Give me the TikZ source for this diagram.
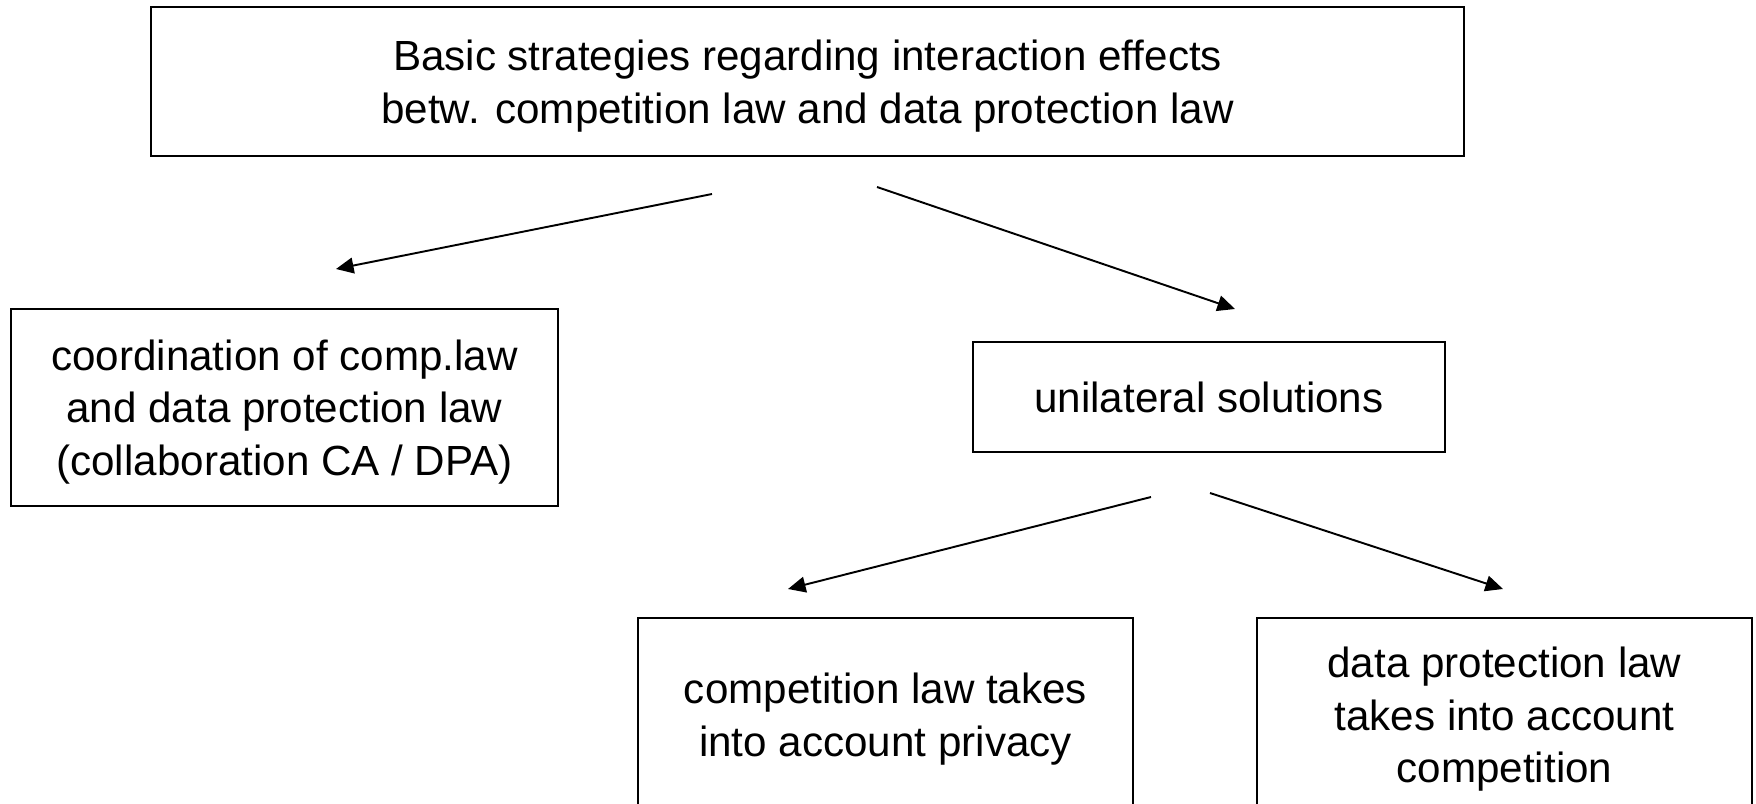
\documentclass[tikz,border=0pt]{standalone}
\usepackage{fontspec}
\setmainfont{Liberation Sans}
\usetikzlibrary{arrows.meta}
\begin{document}
\begin{tikzpicture}[x=0.02cm, y=-0.02cm,
    textbox/.style={draw, line width=0.9pt, align=center, inner sep=0pt, text depth=0pt,
        font=\fontsize{24}{30}\selectfont},
    link/.style={line width=1.1pt, -{Triangle[length=10pt, width=9pt]}}]
    \clip (0,0) rectangle (1756,804);
    % boxes
    \node[textbox, minimum width=1313*0.02cm, minimum height=149*0.02cm] (basic) at (807.5,81.5)
        {Basic strategies regarding interaction effects\\betw. competition law and data protection law};
    \node[textbox, minimum width=547*0.02cm, minimum height=197*0.02cm] (coord) at (284.5,407.5)
        {coordination of comp.law\\and data protection law\\ (collaboration CA / DPA)};
    \node[textbox, minimum width=472*0.02cm, minimum height=110*0.02cm] (unilat) at (1209,397)
        {unilateral solutions};
    \node[textbox, minimum width=495*0.02cm, minimum height=194*0.02cm] (complaw) at (885.5,715)
        {competition law takes\\into account privacy};
    \node[textbox, minimum width=495*0.02cm, minimum height=194*0.02cm] (dplaw) at (1504.5,715)
        {data protection law\\takes into account\\competition};
    % free ends of the arrows
    \coordinate (a1s) at (712,194);  \coordinate (a1e) at (336,269);
    \coordinate (a2s) at (877,187);  \coordinate (a2e) at (1235,309);
    \coordinate (a3s) at (1151,497); \coordinate (a3e) at (788,589);
    \coordinate (a4s) at (1210,493); \coordinate (a4e) at (1503,589);
    \foreach \S/\E in {a1s/a1e, a2s/a2e, a3s/a3e, a4s/a4e}
        {
        \draw[link] (\S) -- (\E);
        }
\end{tikzpicture}
\end{document}
